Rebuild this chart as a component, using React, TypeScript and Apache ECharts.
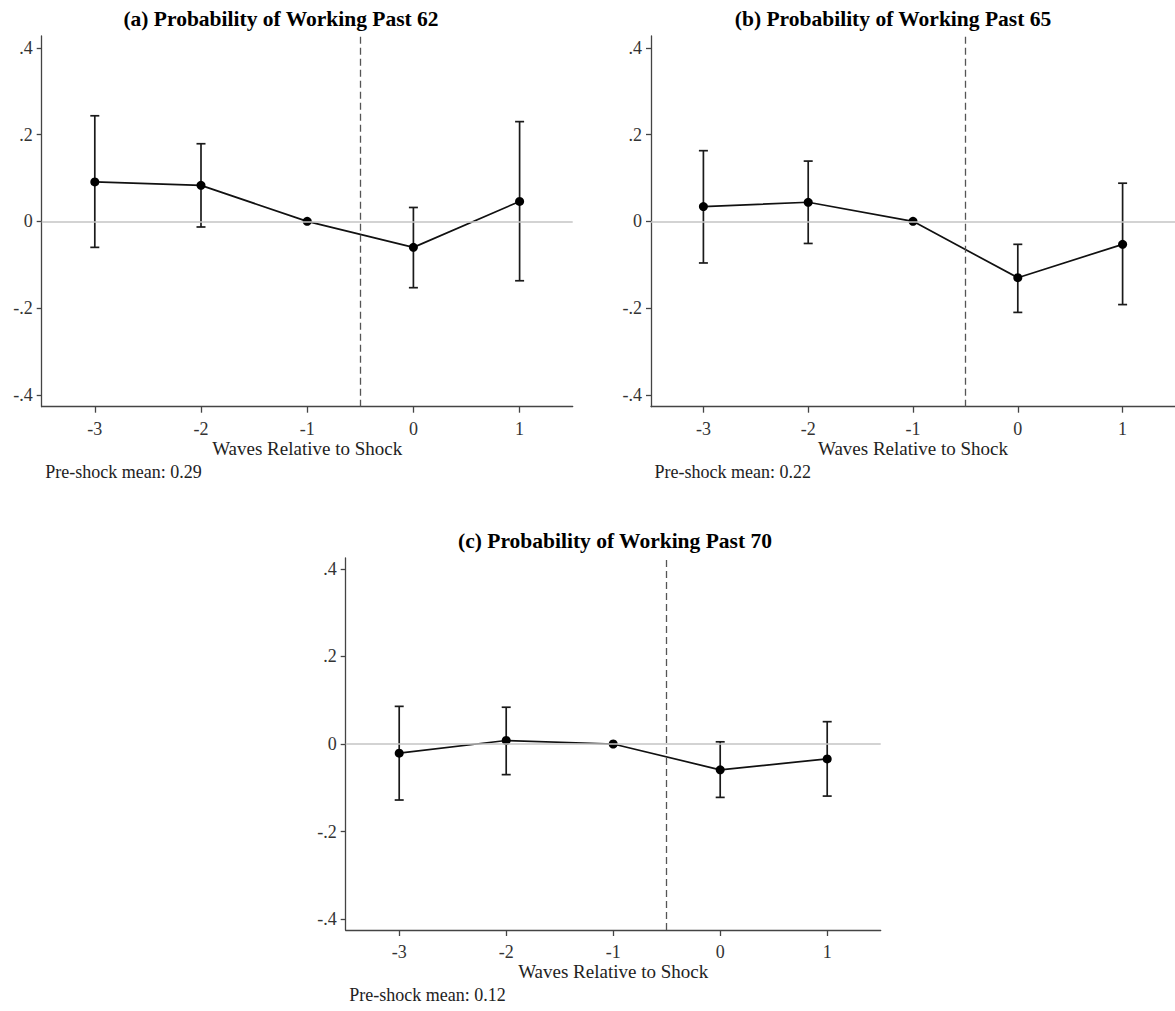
import React, { useEffect, useRef } from "react";
import * as echarts from "echarts";

const waves = [-3, -2, -1, 0, 1];
const xTicks = [-3, -2, -1, 0, 1];
const yTicks = [-0.4, -0.2, 0, 0.2, 0.4];

const est62 = [0.091, 0.083, 0, -0.06, 0.046];
const lo62 = [-0.06, -0.013, 0, -0.153, -0.137];
const hi62 = [0.2435, 0.179, 0, 0.032, 0.23];

const est65 = [0.034, 0.044, 0, -0.13, -0.053];
const lo65 = [-0.096, -0.051, 0, -0.21, -0.192];
const hi65 = [0.163, 0.139, 0, -0.053, 0.088];

const est70 = [-0.021, 0.008, 0, -0.059, -0.034];
const lo70 = [-0.128, -0.07, 0, -0.122, -0.119];
const hi70 = [0.086, 0.084, 0, 0.005, 0.051];

const titles = [
  "(a) Probability of Working Past 62",
  "(b) Probability of Working Past 65",
  "(c) Probability of Working Past 70",
];
const notes = ["Pre-shock mean: 0.29", "Pre-shock mean: 0.22", "Pre-shock mean: 0.12"];
const xName = "Waves Relative to Shock";
const shockLine = -0.5;

const SERIF = '"Liberation Serif", "Times New Roman", serif';

const panels = [
  { est: est62, lo: lo62, hi: hi62, grid: { left: 41.7, top: 36, width: 531, height: 370.7 }, yr: 0.4275, tx: 281 },
  { est: est65, lo: lo65, hi: hi65, grid: { left: 651, top: 36, width: 531, height: 370.7 }, yr: 0.4275, tx: 893 },
  { est: est70, lo: lo70, hi: hi70, grid: { left: 345.7, top: 558, width: 535, height: 372 }, yr: 0.425, tx: 615 },
];

function fmtY(v: number) {
  if (Math.abs(v) < 1e-9) return "0";
  const s = Math.abs(v).toFixed(1).replace(/^0/, "");
  return (v < 0 ? "-" : "") + s;
}

export default function App() {
  const ref = useRef<HTMLDivElement>(null);
  useEffect(() => {
    if (!ref.current) return;
    const chart = echarts.init(ref.current, null, { renderer: "svg" });
    const grids: any[] = [];
    const xAxes: any[] = [];
    const yAxes: any[] = [];
    const series: any[] = [];
    const graphics: any[] = [];
    const tl = { fontFamily: SERIF, fontSize: 18, color: "#333" };
    panels.forEach((p, i) => {
      grids.push({ ...p.grid, containLabel: false });
      xAxes.push({
        type: "value",
        gridIndex: i,
        min: -3.5,
        max: 1.5,
        name: xName,
        nameLocation: "middle",
        nameGap: 31,
        nameTextStyle: { fontFamily: SERIF, fontSize: 19, color: "#222" },
        axisLine: { show: true, onZero: false, lineStyle: { color: "#444", width: 1.3 } },
        axisTick: { show: true, length: 6, customValues: xTicks, lineStyle: { color: "#444", width: 1.3 } },
        axisLabel: {
          show: true,
          customValues: xTicks,
          margin: 13,
          ...tl,
          formatter: (v: number) => String(v),
        },
        splitLine: { show: false },
      });
      yAxes.push({
        type: "value",
        gridIndex: i,
        min: -p.yr,
        max: p.yr,
        axisLine: { show: true, onZero: false, lineStyle: { color: "#444", width: 1.3 } },
        axisTick: { show: true, length: 5, customValues: yTicks, lineStyle: { color: "#444", width: 1.3 } },
        axisLabel: {
          show: true,
          customValues: yTicks,
          margin: 9,
          ...tl,
          formatter: (v: number) => fmtY(v),
        },
        splitLine: { show: false },
      });
      series.push({
        type: "line",
        xAxisIndex: i,
        yAxisIndex: i,
        data: [],
        z: 1,
        silent: true,
        markLine: {
          silent: true,
          symbol: ["none", "none"],
          label: { show: false },
          emphasis: { disabled: true },
          data: [
            { yAxis: 0, lineStyle: { color: "#c4c4c4", width: 1.7, type: "solid" } },
            { xAxis: shockLine, lineStyle: { color: "#555", width: 1.3, type: [7, 4] } },
          ],
        },
      });
      series.push({
        type: "custom",
        xAxisIndex: i,
        yAxisIndex: i,
        z: 3,
        silent: true,
        encode: { x: 0, y: [1, 2] },
        data: waves.map((w, k) => [w, p.lo[k], p.hi[k]]),
        renderItem: (params: any, api: any) => {
          const x = api.value(0);
          const lo = api.value(1);
          const hi = api.value(2);
          if (Math.abs(hi - lo) < 1e-9) return { type: "group", children: [] };
          const a = api.coord([x, lo]);
          const b = api.coord([x, hi]);
          const cw = 4.5;
          const st = { stroke: "#1a1a1a", lineWidth: 1.7 };
          return {
            type: "group",
            children: [
              { type: "line", shape: { x1: a[0], y1: a[1], x2: b[0], y2: b[1] }, style: st },
              { type: "line", shape: { x1: a[0] - cw, y1: a[1], x2: a[0] + cw, y2: a[1] }, style: st },
              { type: "line", shape: { x1: b[0] - cw, y1: b[1], x2: b[0] + cw, y2: b[1] }, style: st },
            ],
          };
        },
      });
      series.push({
        type: "line",
        xAxisIndex: i,
        yAxisIndex: i,
        z: 4,
        silent: true,
        data: waves.map((w, k) => [w, p.est[k]]),
        symbol: "circle",
        symbolSize: 9,
        itemStyle: { color: "#000" },
        lineStyle: { color: "#111", width: 1.7 },
      });
      graphics.push({
        type: "text",
        x: p.tx,
        y: p.grid.top - 17.5,
        style: {
          text: titles[i],
          font: `bold 21.5px ${SERIF}`,
          fill: "#000",
          textAlign: "center",
          textVerticalAlign: "middle",
        },
      });
      graphics.push({
        type: "text",
        x: p.grid.left + 3.5,
        y: p.grid.top + p.grid.height + 65,
        style: {
          text: notes[i],
          font: `18px ${SERIF}`,
          fill: "#222",
          textAlign: "left",
          textVerticalAlign: "middle",
        },
      });
    });
    chart.setOption({
      animation: false,
      backgroundColor: "#fff",
      textStyle: { fontFamily: SERIF },
      grid: grids,
      xAxis: xAxes,
      yAxis: yAxes,
      series,
      graphic: graphics,
    });
    return () => chart.dispose();
  }, []);
  return (
    <div
      ref={ref}
      style={{ position: "absolute", left: 0, top: 0, width: 1175, height: 1011, background: "#fff" }}
    />
  );
}
